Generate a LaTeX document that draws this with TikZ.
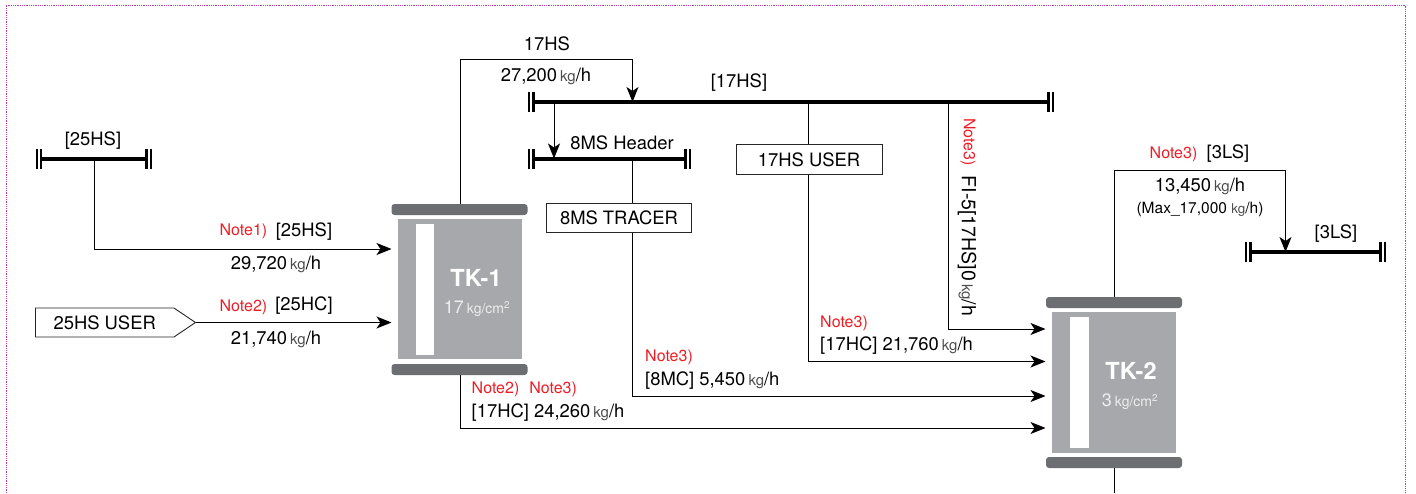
\documentclass[tikz,border=0pt]{standalone}
\usepackage{fontspec}
\setmainfont{TeX Gyre Heros}
\usetikzlibrary{arrows.meta, positioning, shapes.symbols}

\definecolor{tankgray}{HTML}{A7A8AB}
\definecolor{bargray}{HTML}{6D6E71}
\definecolor{notered}{HTML}{ED1C24}
\definecolor{framepink}{HTML}{B83FA8}

\newcommand{\kgh}{\,{\fontsize{15}{17}\selectfont\color{black!70}kg}/h}
\newcommand{\kgcm}{\,{\fontsize{14}{16}\selectfont kg/cm\textsuperscript{2}}}

\begin{document}
\begin{tikzpicture}[
    x=1pt, y=-1pt,
    lbl/.style={font=\fontsize{18.4}{21}\selectfont, inner sep=0pt, text=black},
    note/.style={font=\fontsize{16}{19}\selectfont, inner sep=0pt, text=notered},
    ubox/.style={
        rectangle, draw=black!85, fill=white, line width=0.9pt,
        font=\fontsize{18.4}{21}\selectfont, inner sep=0pt,
    },
    body/.style={rectangle, fill=tankgray, inner sep=0pt},
    strip/.style={rectangle, fill=white, inner sep=0pt},
    bar/.style={rectangle, rounded corners=3pt, fill=bargray, inner sep=0pt},
    tname/.style={font=\fontsize{23.5}{26}\selectfont\bfseries, text=white, inner sep=0pt},
    tpress/.style={font=\fontsize{18}{20}\selectfont, text=white!80!tankgray, inner sep=0pt},
    pipe/.style={line width=1pt, black},
    arr/.style={pipe, -{Stealth[length=15pt, width=12pt, inset=4pt]}},
    bus/.style={line width=4pt, shorten <=5pt, shorten >=5pt},
    tick/.style={line width=2.3pt},
]
\useasboundingbox (0,0) rectangle (1416,493);

% === FRAME ===
\coordinate (fa) at (6,493);
\coordinate (fb) at (6,5);
\coordinate (fc) at (1405.5,5);
\coordinate (fd) at (1405.5,493);
\draw[framepink, line width=0.8pt, densely dotted] (fa) -- (fb) -- (fc) -- (fd);

% === TANKS ===
\node[bar, minimum width=136pt, minimum height=11pt] (tk1top) at (459.5,209.5) {};
\node[body, minimum width=124pt, minimum height=140pt] (tk1) at (460,289) {};
\node[bar, minimum width=136pt, minimum height=11pt] (tk1bot) at (459.5,369.5) {};
\node[strip, minimum width=18.5pt, minimum height=131pt] (tk1strip) at (425,289.5) {};
\node[tname] (tk1name) at (476,278) {TK-1};
\node[tpress] (tk1press) at (477,309) {17\kgcm};

\node[bar, minimum width=136pt, minimum height=11pt] (tk2top) at (1114,302.5) {};
\node[body, minimum width=124pt, minimum height=141pt] (tk2) at (1114,382.5) {};
\node[bar, minimum width=136pt, minimum height=11pt] (tk2bot) at (1114,462.5) {};
\node[strip, minimum width=19pt, minimum height=131pt] (tk2strip) at (1079.5,382.5) {};
\node[tname] (tk2name) at (1131,371) {TK-2};
\node[tpress] (tk2press) at (1130,402) {3\kgcm};

% === BUSES ===
\coordinate (b25l) at (35.5,159);
\coordinate (b25r) at (152,159);
\coordinate (b17l) at (528,102);
\coordinate (b17r) at (1054,102);
\coordinate (b8l) at (528,158.5);
\coordinate (b8r) at (691,158.5);
\coordinate (b3l) at (1245,252);
\coordinate (b3r) at (1386,252);
\draw[bus] (b25l) -- (b25r);
\draw[bus] (b17l) -- (b17r);
\draw[bus] (b8l) -- (b8r);
\draw[bus] (b3l) -- (b3r);

% End ticks
\foreach \c/\d in {b25l/1, b25r/-1, b17l/1, b17r/-1, b8l/1, b8r/-1, b3l/1, b3r/-1} {
    \draw[tick] ([xshift=\d*1.2pt, yshift=10pt]\c) -- ([xshift=\d*1.2pt, yshift=-10pt]\c);
    \draw[tick] ([xshift=\d*5.6pt, yshift=10pt]\c) -- ([xshift=\d*5.6pt, yshift=-10pt]\c);
}

% === USER BOXES ===
\node[ubox, signal, signal to=east, signal pointer angle=68, anchor=west,
      minimum width=160pt, minimum height=29pt] (user25) at (35,322.5) {25HS USER};
\node[ubox, minimum width=146pt, minimum height=29.5pt] (user17) at (809,159.5) {17HS USER};
\node[ubox, minimum width=145pt, minimum height=29.5pt] (tracer8) at (619,218) {8MS TRACER};

% Tap points
\coordinate (t25) at (94,159);
\coordinate (t17in) at (632.5,102);
\coordinate (t8a) at (554,102);
\coordinate (t8b) at (554,158.5);
\coordinate (t8c) at (632.5,158.5);
\coordinate (t17u) at (808.5,102);
\coordinate (t17f) at (948,102);
\coordinate (top17) at (460,59);
\coordinate (top3) at (1114.5,170);
\coordinate (t3) at (1285.5,252);
\coordinate (tail2) at (1114.5,493);

% Ports on the tanks
\coordinate (p1a) at (391.5,249);
\coordinate (p1b) at (391.5,322.5);
\coordinate (p2a) at (1045.5,329);
\coordinate (p2b) at (1045.5,361.5);
\coordinate (p2c) at (1045.5,396);
\coordinate (p2d) at (1045.5,428);

% === CONNECTORS ===
\draw[arr] (t25) |- (p1a);
\draw[arr] (user25.east) -- (p1b);
\draw[arr] (tk1top.north -| top17) -- (top17) -| (t17in);
\draw[arr] (t8a) -- (t8b);
\draw[pipe] (t8c) -- (tracer8.north -| t8c);
\draw[arr] (tracer8.south -| t8c) |- (p2c);
\draw[pipe] (t17u) -- (user17.north -| t17u);
\draw[arr] (user17.south -| t17u) |- (p2b);
\draw[arr] (t17f) |- (p2a);
\draw[arr] (tk1bot.south -| top17) |- (p2d);
\draw[arr] (tk2top.north -| top3) -- (top3) -| (t3);
\draw[pipe] (tk2bot.south -| tail2) -- (tail2);

% === LABELS ===
\node[lbl] (l25bus) at (93,141) {[25HS]};
\node[note] (n1) at (243.5,231) {Note1)};
\node[lbl] (l25hs) at (304,232) {[25HS]};
\node[lbl] (f25hs) at (276,264) {29,720\kgh};
\node[note] (n2) at (243.5,307) {Note2)};
\node[lbl] (l25hc) at (304,306) {[25HC]};
\node[lbl] (f25hc) at (276,339) {21,740\kgh};

\node[lbl] (l17top) at (547,44) {17HS};
\node[lbl] (f17) at (546,76) {27,200\kgh};
\node[lbl] (l17bus) at (739,83) {[17HS]};
\node[lbl] (l8bus) at (622,143) {8MS Header};

\node[note, rotate=-90] (n3fi) at (968,142) {Note3)};
\node[lbl, rotate=-90, font=\fontsize{19.5}{22}\selectfont] (lfi) at (967,246) {FI-5[17HS]0\kgh};

\node[note] (n3ls) at (1173.5,154) {Note3)};
\node[lbl] (l3ls) at (1228,154) {[3LS]};
\node[lbl] (f3ls) at (1200,186) {13,450\kgh};
\node[lbl, font=\fontsize{15.5}{18}\selectfont] (m3ls) at (1200,209) {(Max\_17,000 {\fontsize{13.5}{15}\selectfont\color{black!70}kg}/h)};
\node[lbl] (l3bus) at (1336,234) {[3LS]};

\node[note, anchor=west] (n3hc) at (820,323) {Note3)};
\node[lbl, anchor=west] (f17hc) at (820,346) {[17HC] 21,760\kgh};
\node[note, anchor=west] (n3mc) at (645,357) {Note3)};
\node[lbl, anchor=west] (f8mc) at (645,381) {[8MC] 5,450\kgh};
\node[note, anchor=west] (n23) at (471.5,389) {Note2)\hspace{10pt}Note3)};
\node[lbl, anchor=west] (f17hc2) at (471.5,413) {[17HC] 24,260\kgh};

\end{tikzpicture}
\end{document}
